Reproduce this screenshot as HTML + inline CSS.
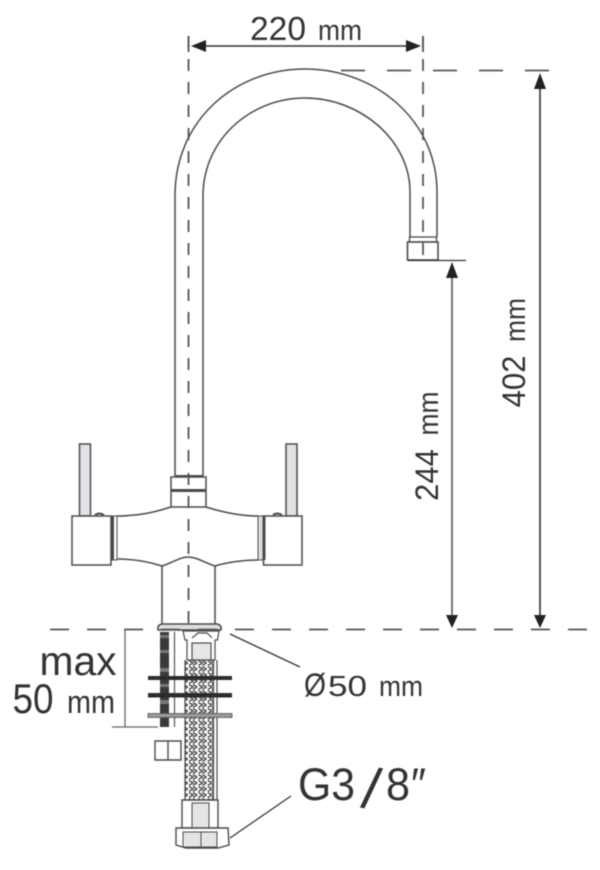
<!DOCTYPE html>
<html><head><meta charset="utf-8"><style>
html,body{margin:0;padding:0;background:#fff;width:600px;height:870px;overflow:hidden}
svg{display:block;filter:blur(.4px)}
text{font-family:"Liberation Sans",sans-serif;fill:#333335}
</style></head><body>
<svg width="600" height="870" viewBox="0 0 600 870" xmlns="http://www.w3.org/2000/svg">
<defs>
<pattern id="br" width="9.4" height="6" patternUnits="userSpaceOnUse">
<path d="M1 0.500L5 3L1 5.500M5 0.500L9 3L5 5.500" fill="none" stroke="#4a4a4c" stroke-width="1.400"/>
</pattern>
</defs>
<g fill="none" stroke="#4a4a4c" stroke-width="1.500">
<!-- spout -->
<path d="M175 476V196C175 120 235 69 305 69C375 69 437 120 437 192V237"/>
<path d="M203 476V196C203 140 250 98 305 98C360 98 410 140 410 192V237"/>
<rect x="409.500" y="237" width="27" height="5" fill="#fff" stroke-width="1.300"/>
<rect x="407.500" y="242" width="30.500" height="18" fill="#fff" stroke-width="1.600"/>
<!-- collar -->
<rect x="171" y="477" width="35" height="30" fill="#fff"/>
<path d="M175 476H203" stroke-width="2"/>
<path d="M171 490.500H206" stroke-width="3"/>
<!-- body -->
<path d="M117 516C140 516 155 512 171 507M206 507C222 512 240 516 258 516"/>
<path d="M117 559C135 559 150 562 162 566C172 563 180 557 188 557C197 557 205 563 215 566C228 562 245 560 258 560"/>
<!-- base -->
<path d="M162 566V625M215 566V625"/>
<path d="M158 630Q157 625 162 624H217Q222 625 221 630Z" fill="#dedee0"/>
<!-- right handle -->
<rect x="286" y="444" width="11" height="72" fill="#e2e2e6"/>
<rect x="258" y="516" width="5" height="44" fill="#ddd" stroke-width="1"/>
<rect x="263.500" y="516" width="38.500" height="49" fill="#fff"/>
<path d="M264 516V560" stroke-width="3"/>
<path d="M273 515Q277 512 282 515" stroke-width="2"/>
<!-- left handle -->
<rect x="79.500" y="444" width="11" height="72" fill="#e2e2e6"/>
<rect x="112" y="516" width="5" height="44" fill="#fff" stroke-width="1"/>
<rect x="72" y="516" width="39" height="49" fill="#fff"/>
<path d="M112.500 516V560" stroke-width="3"/>
<path d="M95 515Q99 512 104 515" stroke-width="2"/>
</g>
<!-- threaded rod -->
<rect x="160" y="632" width="9" height="95" fill="#3a3a3a"/>
<g fill="#777"><rect x="160" y="635" width="9" height="3"/><rect x="160" y="650" width="9" height="3"/><rect x="160" y="668" width="9" height="4"/><rect x="160" y="684" width="9" height="3"/><rect x="160" y="700" width="9" height="4"/></g>
<path d="M174.500 632V727" stroke="#555" stroke-width="1.200"/>
<!-- hose -->
<rect x="185" y="660" width="28" height="140" fill="url(#br)"/>
<g fill="none" stroke="#4a4a4c" stroke-width="1.200">
<path d="M185 660V800M213.500 660V800M217 660V800"/>
<path d="M183 631H219L217.500 640H215V660H187V640H185Z" fill="#fff"/>
<rect x="192" y="643" width="19" height="17" fill="#e6e6e8"/>
<path d="M192 638L198 633H207L212 638"/>
</g>
<rect x="148" y="676" width="84" height="4" fill="#2c2c2c"/>
<rect x="148" y="693" width="84" height="4.500" fill="#2c2c2c"/>
<rect x="148" y="713.500" width="84" height="4" fill="#9a9a9a" stroke="#555" stroke-width=".8"/>
<g fill="none" stroke="#4a4a4c" stroke-width="1.400">
<path d="M155 741H181V760H155ZM168 741V760"/>
<path d="M182 800H218V828H182Z" fill="#fff"/>
<rect x="192" y="803" width="17" height="26" fill="#e4e4e6" stroke-width="1"/>
<path d="M176 828H228L229 845L218 848H186L176 845Z" fill="#fff"/>
<path d="M183 832H217V847H183Z" fill="#e4e4e6" stroke-width="1"/>
<path d="M201 832V847" stroke-width="1"/>
</g>
<!-- dashes -->
<g fill="none" stroke="#555" stroke-width="1.800">
<path d="M188.500 36V625" stroke-dasharray="12 11"/>
<path d="M423 36V258" stroke-dasharray="12 11"/>
<path d="M341 70.500H553" stroke-dasharray="24 22"/>
<path d="M50 629.500H590" stroke-dasharray="19 18"/>
<path d="M188.500 36V52M423 36V52"/>
</g>
<!-- leaders and dimensions -->
<g fill="none" stroke="#333" stroke-width="1.300">
<path d="M408 260.500H466"/>
<path d="M230 634L300 667M230 838L291 796"/>
<path d="M125 630V727M112 727H158" stroke="#666"/>
<path d="M194 46H418M540 80V620" stroke-width="1.600"/>
<path d="M452 270V620" stroke="#666" stroke-width="1.800"/>
</g>
<g fill="#222">
<path d="M191 46L206 40V52ZM421 46L406 40V52Z"/>
<path d="M540 73L534 89H546ZM540 628L534 615H546Z"/>
<path d="M452 262L446 278H458ZM452 628L446 615H458Z"/>
</g>
<!-- labels -->
<text x="250" y="40" font-size="33" textLength="56" lengthAdjust="spacingAndGlyphs">220</text>
<text x="318" y="40" font-size="29" textLength="44" lengthAdjust="spacingAndGlyphs">mm</text>
<text transform="translate(525,407.500) rotate(-90)" font-size="32" textLength="52" lengthAdjust="spacingAndGlyphs">402</text>
<text transform="translate(525,342) rotate(-90)" font-size="29" textLength="44" lengthAdjust="spacingAndGlyphs">mm</text>
<text transform="translate(438,501) rotate(-90)" font-size="32" textLength="52" lengthAdjust="spacingAndGlyphs">244</text>
<text transform="translate(438,435.500) rotate(-90)" font-size="29" textLength="44" lengthAdjust="spacingAndGlyphs">mm</text>
<text x="39.500" y="675" font-size="41" textLength="77" lengthAdjust="spacingAndGlyphs">max</text>
<text x="12.500" y="713" font-size="42" textLength="41" lengthAdjust="spacingAndGlyphs">50</text>
<text x="67" y="713" font-size="32" textLength="48" lengthAdjust="spacingAndGlyphs">mm</text>
<text x="304" y="696" font-size="32" textLength="22" lengthAdjust="spacingAndGlyphs">Ø</text>
<text x="328" y="696" font-size="29" textLength="39" lengthAdjust="spacingAndGlyphs">50</text>
<text x="379" y="696" font-size="29" textLength="44" lengthAdjust="spacingAndGlyphs">mm</text>
<text x="298" y="800" font-size="45" textLength="57" lengthAdjust="spacingAndGlyphs">G3</text>
<text transform="translate(360,807) rotate(10)" font-size="58">/</text>
<text x="386" y="800" font-size="45" textLength="24" lengthAdjust="spacingAndGlyphs">8</text>
<text x="411" y="800" font-size="45" textLength="15" lengthAdjust="spacingAndGlyphs">″</text>
</svg>
</body></html>
